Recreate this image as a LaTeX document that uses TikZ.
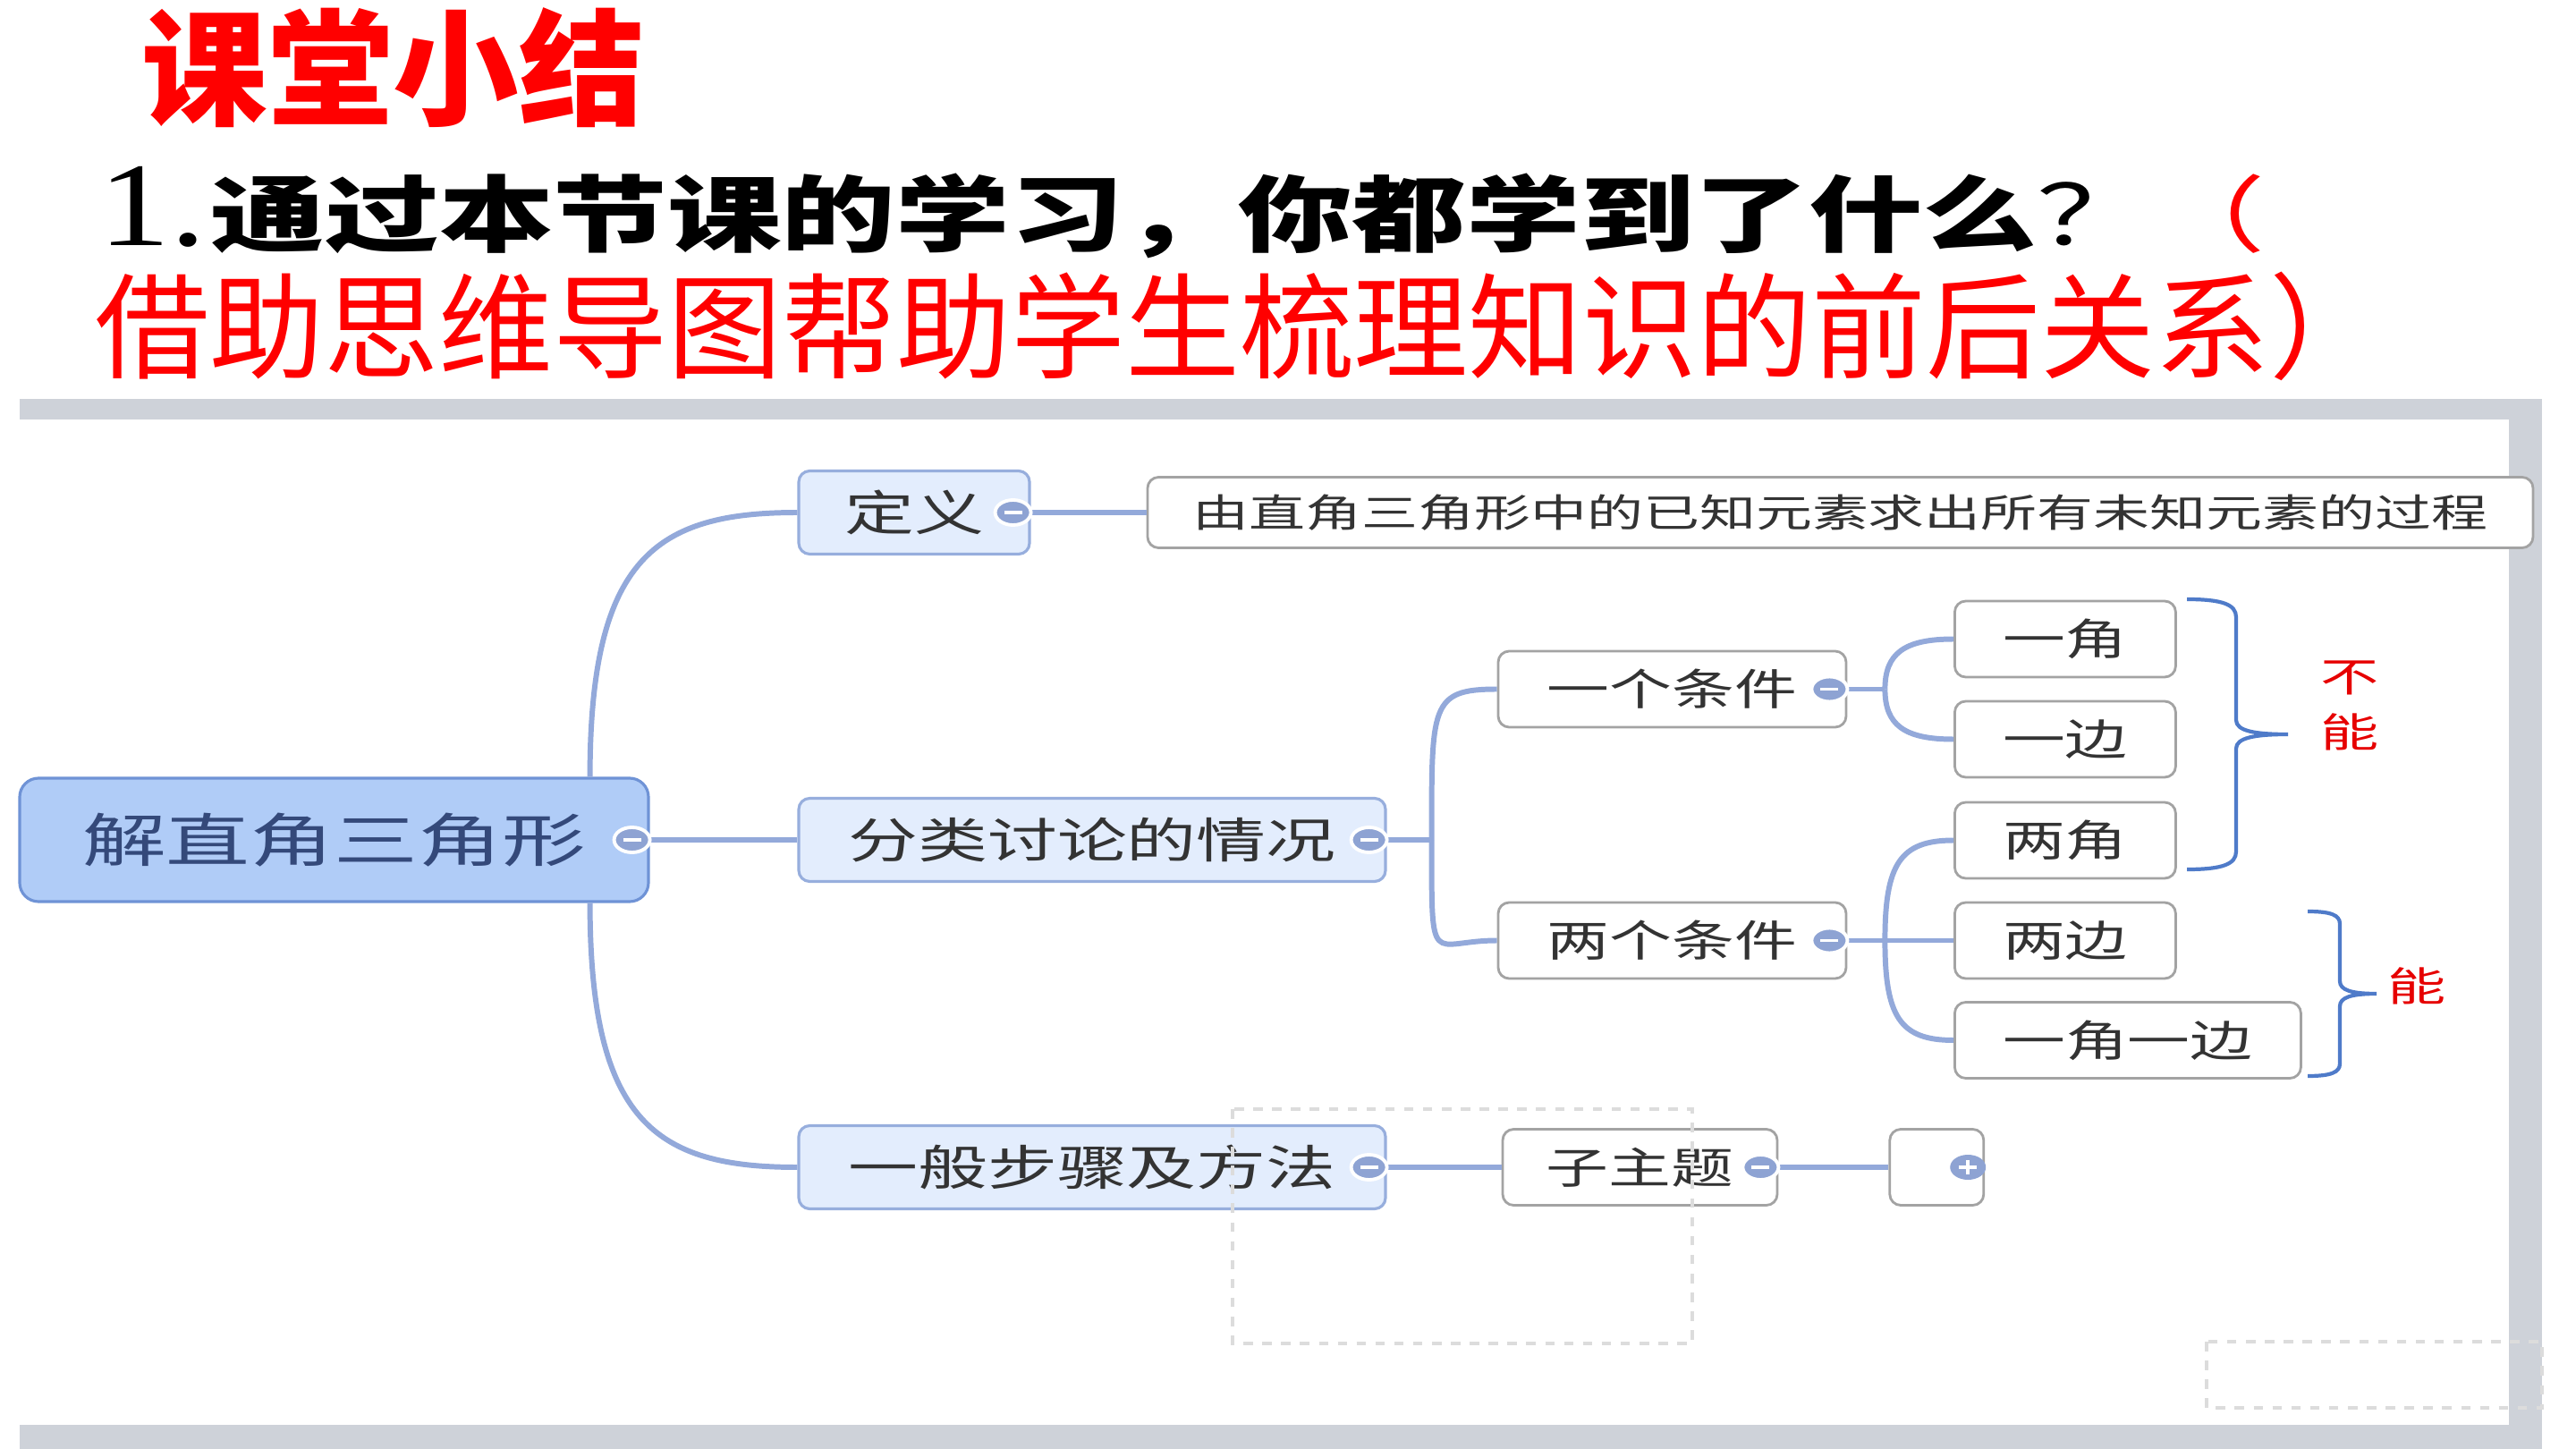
\documentclass[tikz,border=0pt]{standalone}
\usepackage{fontspec}
\usetikzlibrary{shapes.geometric,positioning}

\newfontfamily\cjk{Noto Sans CJK SC}
\newfontfamily\mapfont[FakeStretch=1.45]{Noto Sans CJK SC}
\newfontfamily\wideheavy[FakeStretch=1.37]{Noto Sans CJK SC}
\newfontfamily\numfont[FakeStretch=1.2]{Liberation Serif}

\definecolor{framegray}{HTML}{CED2D9}
\definecolor{rootfill}{HTML}{B0CCF7}
\definecolor{rootline}{HTML}{6F93D6}
\definecolor{roottext}{HTML}{34497A}
\definecolor{topicfill}{HTML}{E3EDFD}
\definecolor{topicline}{HTML}{97AEDD}
\definecolor{subline}{HTML}{A3A3A3}
\definecolor{nodetext}{HTML}{333333}
\definecolor{linkcol}{HTML}{93A9DA}
\definecolor{foldcol}{HTML}{8EA3D3}
\definecolor{bracecol}{HTML}{4F7BC9}
\definecolor{notered}{HTML}{E60000}
\definecolor{ghostgray}{HTML}{DCDCDC}

\begin{document}
\begin{tikzpicture}[
    mainbox/.style={draw=rootline, fill=rootfill, line width=0.9pt, rounded corners=6pt, inner sep=0pt, minimum width=7.03cm, minimum height=1.38cm, text=roottext, font=\mapfont\fontsize{18.4pt}{22pt}\selectfont},
    topicbox/.style={draw=topicline, fill=topicfill, line width=0.9pt, rounded corners=3.5pt, inner sep=0pt, minimum height=0.93cm, text=nodetext, font=\mapfont\fontsize{15.3pt}{18pt}\selectfont},
    subbox/.style={draw=subline, fill=white, line width=0.8pt, rounded corners=3.5pt, inner sep=0pt, minimum height=0.85cm, text=nodetext, font=\mapfont\fontsize{13.7pt}{16pt}\selectfont},
    link/.style={draw=linkcol, line width=1.7pt},
    fold/.style={ellipse, fill=foldcol, draw=white, line width=1.1pt, inner sep=0pt, minimum width=0.4cm, minimum height=0.28cm},
    brk/.style={draw=bracecol, line width=1.2pt},
    note/.style={text=notered, font=\mapfont\fontsize{12.8pt}{17.6pt}\selectfont},
    ghost/.style={draw=ghostgray, line width=1pt, dash pattern=on 3pt off 3pt}
]
\useasboundingbox (0,0) rectangle (28.8,-16.2);

% frame of the screenshot
\fill[framegray] (0.22,-4.46) rectangle (28.42,-4.69);
\fill[framegray] (28.05,-4.46) rectangle (28.42,-16.2);
\fill[framegray] (0.22,-15.93) rectangle (28.42,-16.2);

% Main topic and branches
\node[mainbox] (root) at (3.735,-9.39) {解直角三角形};
\node[topicbox, minimum width=2.58cm] (def) at (10.22,-5.73) {定义};
\node[subbox, right=1.29cm of def, minimum width=15.49cm, minimum height=0.79cm, font=\mapfont\fontsize{12.35pt}{15pt}\selectfont] (deftext) {由直角三角形中的已知元素求出所有未知元素的过程};
\node[topicbox, minimum width=6.56cm] (cls) at (12.21,-9.39) {分类讨论的情况};
\node[topicbox, minimum width=6.56cm] (steps) at (12.21,-13.05) {一般步骤及方法};

\node[subbox, minimum width=3.89cm] (one) at (18.695,-7.705) {一个条件};
\node[subbox, minimum width=3.89cm] (two) at (18.695,-10.515) {两个条件};
\node[subbox, minimum width=2.47cm, anchor=west] (oa) at (21.84,-7.145) {一角};
\node[subbox, minimum width=2.47cm, anchor=west] (os) at (21.84,-8.265) {一边};
\node[subbox, minimum width=2.47cm, anchor=west] (ta) at (21.84,-9.395) {两角};
\node[subbox, minimum width=2.47cm, anchor=west] (ts) at (21.84,-10.515) {两边};
\node[subbox, minimum width=3.87cm, anchor=west] (tas) at (21.84,-11.63) {一角一边};

\node[subbox, right=1.28cm of steps, minimum width=3.07cm] (sub) {子主题};
\node[subbox, right=1.23cm of sub, minimum width=1.05cm] (blank) {};

% connectors
\draw[link] ([xshift=-0.67cm]root.north east) .. controls +(0,2.45) and ([xshift=-1.58cm]def.west) .. (def.west);
\draw[link] ([xshift=-0.67cm]root.south east) .. controls +(0,-2.45) and ([xshift=-1.58cm]steps.west) .. (steps.west);
\draw[link] (root.east) -- (cls.west);
\draw[link] (def.east) -- (deftext.west);
\draw[link] (cls.east) -- ++(0.5,0) coordinate (fa);
\draw[link] (fa) .. controls +(0,1.5) and ([xshift=-0.75cm]one.west) .. (one.west);
\draw[link] (fa) .. controls +(0,-1.5) and ([xshift=-0.75cm]two.west) .. (two.west);
\draw[link] (one.east) -- ++(0.42,0) coordinate (fb);
\draw[link] (fb) .. controls +(0,0.4) and ([xshift=-0.55cm]oa.west) .. (oa.west);
\draw[link] (fb) .. controls +(0,-0.4) and ([xshift=-0.55cm]os.west) .. (os.west);
\draw[link] (two.east) -- ++(0.42,0) coordinate (fc) -- (ts.west);
\draw[link] (fc) .. controls +(0,0.85) and ([xshift=-0.6cm]ta.west) .. (ta.west);
\draw[link] (fc) .. controls +(0,-0.85) and ([xshift=-0.6cm]tas.west) .. (tas.west);
\draw[link] (steps.east) -- (sub.west);
\draw[link] (sub.east) -- (blank.west);

% fold markers
\foreach \n in {root,def,cls,steps,one,two,sub}{
  \node[fold] (f\n) at ([xshift=-0.2cm]\n.east) {};
  \draw[white, line width=1.1pt] ([xshift=-0.1cm]f\n.center) -- ([xshift=0.1cm]f\n.center);
}
\node[fold, draw=none] (fblank) at ([xshift=-0.19cm]blank.east) {};
\draw[white, line width=1.1pt] ([xshift=-0.1cm]fblank.center) -- ([xshift=0.1cm]fblank.center) ([yshift=-0.08cm]fblank.center) -- ([yshift=0.08cm]fblank.center);

% dashed ghosts
\draw[ghost] (13.78,-12.40) rectangle (18.92,-15.02);
\draw[ghost] (24.67,-15.00) rectangle (28.42,-15.74);

% braces
\coordinate (nt) at (24.45,-6.70);
\coordinate (ntip) at (25.58,-8.21);
\coordinate (nb) at (24.45,-9.72);
\draw[brk] (nt) .. controls +(0.4,0) and +(0,0.14) .. (25.0,-6.90) -- (25.0,-8.05) .. controls +(0,-0.12) and +(-0.38,0) .. (ntip) .. controls +(-0.38,0) and +(0,0.12) .. (25.0,-8.37) -- (25.0,-9.52) .. controls +(0,-0.14) and +(0.4,0) .. (nb);
\coordinate (yt) at (25.80,-10.19);
\coordinate (ytip) at (26.57,-11.11);
\coordinate (yb) at (25.80,-12.03);
\draw[brk] (yt) .. controls +(0.26,0) and +(0,0.1) .. (26.16,-10.33) -- (26.16,-10.97) .. controls +(0,-0.1) and +(-0.28,0) .. (ytip) .. controls +(-0.28,0) and +(0,0.1) .. (26.16,-11.25) -- (26.16,-11.89) .. controls +(0,-0.1) and +(0.26,0) .. (yb);

\node[note, align=center] (cannot) at (26.27,-7.89) {不\\能};
\node[note] (can) at (27.02,-11.02) {能};

% heading
\node[anchor=base west, inner sep=0pt, text=red, font=\cjk\bfseries\fontsize{40pt}{44pt}\selectfont] (title) at (1.58,-1.30) {课堂小结};
\node[anchor=base west, inner sep=0pt, font=\wideheavy\fontsize{26.5pt}{30pt}\selectfont] (ask) at (1.10,-2.75) {{\numfont\fontsize{38pt}{40pt}\selectfont 1.}\hspace{0.05cm}{\bfseries 通过本节课的学习，你都学到了什么}？{\color{red}（}};
\node[anchor=base west, inner sep=0pt, text=red, font=\cjk\fontsize{36.4pt}{40pt}\selectfont] (aim) at (1.06,-4.14) {借助思维导图帮助学生梳理知识的前后关系）};

\end{tikzpicture}
\end{document}
